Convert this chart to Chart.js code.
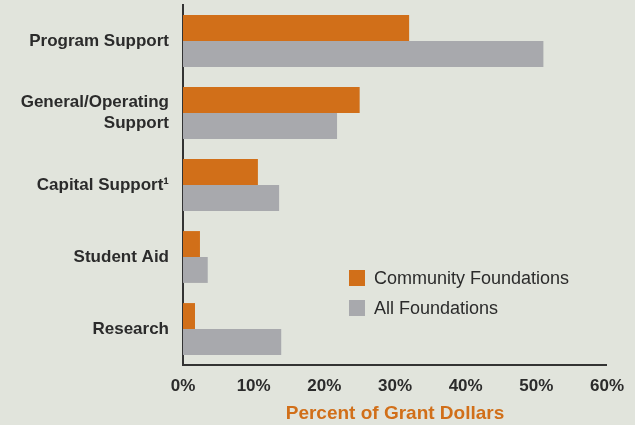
<!DOCTYPE html>
<html>
<head>
<meta charset="utf-8">
<script src="https://cdn.jsdelivr.net/npm/chart.js@4"></script>
<style>
    html, body { margin: 0; padding: 0; background: #e1e4dc; }
    #wrap { position: relative; width: 635px; height: 425px; }
    #legend { position: absolute; left: 349px; top: 263px; font-family: "Liberation Sans", Arial, sans-serif; font-size: 18px; color: #2b2b2b; }
    .item { display: flex; align-items: center; height: 30px; }
    .box { width: 16px; height: 16px; margin-right: 9px; }
</style>
</head>
<body>
<div id="wrap">
    <canvas id="chart" width="635" height="425"></canvas>
    <div id="legend"></div>
</div>
<script>
const categories = ['Program Support', ['General/Operating', 'Support'], 'Capital Support\u00b9', 'Student Aid', 'Research'];
const communityFoundations = [32, 25, 10.6, 2.4, 1.7];
const allFoundations = [51, 21.8, 13.6, 3.5, 13.9];
const xTicks = [0, 10, 20, 30, 40, 50, 60];
const seriesNames = ['Community Foundations', 'All Foundations'];
const colors = ['#d16f19', '#a8a9ad'];

const legend = document.getElementById('legend');
seriesNames.forEach((name, i) => {
    const item = document.createElement('div');
    item.className = 'item';
    item.innerHTML = `<span class="box" style="background:${colors[i]}"></span><span>${name}</span>`;
    legend.appendChild(item);
});

const ctx = document.getElementById('chart').getContext('2d');
new Chart(ctx, {
    type: 'bar',
    data: {
        labels: categories,
        datasets: [
            { label: seriesNames[0], data: communityFoundations, backgroundColor: colors[0] },
            { label: seriesNames[1], data: allFoundations, backgroundColor: colors[1] }
        ]
    },
    options: {
        indexAxis: 'y',
        responsive: false,
        animation: false,
        devicePixelRatio: 1,
        categoryPercentage: 0.72,
        barPercentage: 1,
        layout: { padding: { top: 5, right: 28, bottom: 0, left: 0 } },
        plugins: {
            legend: { display: false },
            tooltip: { enabled: false }
        },
        scales: {
            x: {
                min: 0,
                max: 60,
                afterBuildTicks: (scale) => { scale.ticks = xTicks.map(v => ({ value: v })); },
                afterFit: (scale) => { scale.height = 60; },
                grid: { display: false, drawTicks: false },
                border: { display: true, color: '#333', width: 2 },
                ticks: {
                    padding: 11,
                    color: '#2b2b2b',
                    font: { family: 'Liberation Sans', size: 17, weight: 'bold' },
                    callback: (v) => v + '%'
                },
                title: {
                    display: true,
                    text: 'Percent of Grant Dollars',
                    color: '#d16f19',
                    padding: { top: 5, bottom: 0 },
                    font: { family: 'Liberation Sans', size: 19, weight: 'bold' }
                }
            },
            y: {
                afterFit: (scale) => {
                    scale.width = 183;
                    scale.paddingTop = 0;
                    scale.paddingBottom = 0;
                },
                grid: { display: false, drawTicks: false },
                border: { display: true, color: '#333', width: 2 },
                ticks: {
                    padding: 14,
                    color: '#2b2b2b',
                    font: { family: 'Liberation Sans', size: 17, weight: 'bold', lineHeight: 1.2 }
                }
            }
        }
    }
});
</script>
</body>
</html>
